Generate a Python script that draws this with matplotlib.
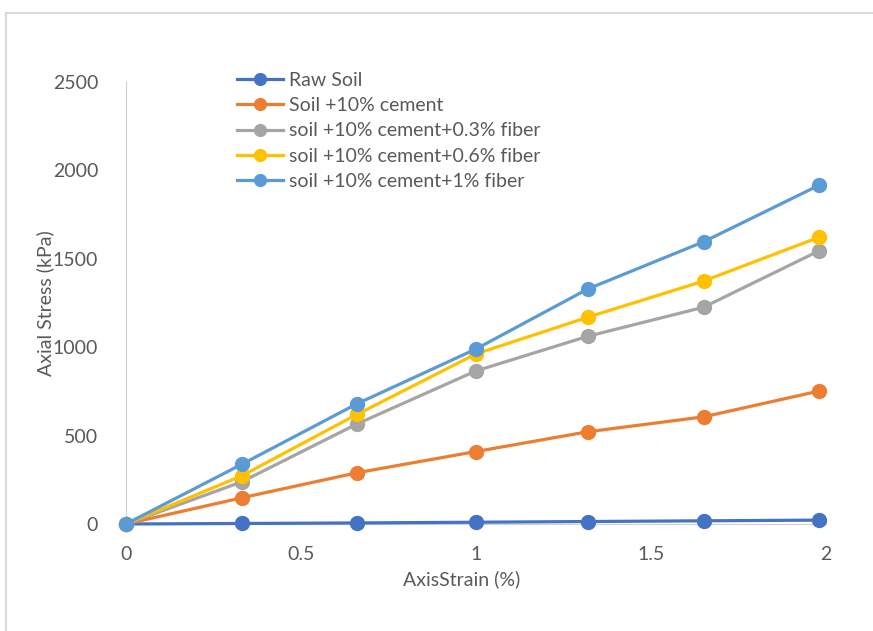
import matplotlib
matplotlib.use("Agg")
import matplotlib.pyplot as plt
from matplotlib.lines import Line2D

# strain (%) and axial stress (kPa)
strain = [0, 0.33, 0.66, 1.0, 1.32, 1.65, 1.98]
raw_soil = [0, 3, 6, 10, 14, 18, 22]
cement10 = [0, 148, 290, 410, 522, 606, 752]
fiber03 = [0, 238, 566, 866, 1062, 1226, 1545]
fiber06 = [0, 272, 620, 962, 1170, 1374, 1622]
fiber1 = [0, 337, 680, 990, 1330, 1596, 1916]

labels = ["Raw Soil", "Soil +10% cement", "soil +10% cement+0.3% fiber",
          "soil +10% cement+0.6% fiber", "soil +10% cement+1% fiber"]
colors = ["#4472C4", "#ED7D31", "#A5A5A5", "#FFC000", "#5B9BD5"]
series = [raw_soil, cement10, fiber03, fiber06, fiber1]

plt.rcParams['font.family'] = ['Lato', 'DejaVu Sans']
txt = "#595959"

fig = plt.figure(figsize=(8.73, 6.31), dpi=100)
ax = fig.add_axes([126/873, 1-524/631, 700/873, 442/631])

for vals, lab, c in zip(series, labels, colors):
    ax.plot(strain, vals, color=c, lw=2.3, marker='o', markersize=10,
            label=lab, clip_on=False, zorder=3)

ax.set_xlim(0, 2)
ax.set_ylim(0, 2500)
ax.set_xticks([0, 0.5, 1, 1.5, 2])
ax.set_xticklabels(["0", "0.5", "1", "1.5", "2"])
ax.set_yticks([0, 500, 1000, 1500, 2000, 2500])
ax.tick_params(length=0, labelsize=14, colors=txt)
ax.tick_params(axis='x', pad=16)
ax.tick_params(axis='y', pad=20)
for s in ['top', 'right']:
    ax.spines[s].set_visible(False)
ax.spines['left'].set_color("#D0D0D0")
ax.spines['bottom'].set_color("#D0D0D0")

ax.set_xlabel("AxisStrain (%)", fontsize=14, color=txt)
ax.set_ylabel("Axial Stress (kPa)", fontsize=14, color=txt)
ax.xaxis.set_label_coords(0.48, -0.105)
ax.yaxis.set_label_coords(-0.103, 0.5)

leg = ax.legend(loc='upper left', bbox_to_anchor=(0.147, 1.04), frameon=False,
                fontsize=14, handlelength=2.4, handletextpad=0.3,
                labelspacing=0.42, borderaxespad=0, markerscale=0.85)
for t in leg.get_texts():
    t.set_color(txt)

# chart area border (only top and left edges are in view)
fig.add_artist(Line2D([6/873, 1], [1-13/631, 1-13/631], color="#D9D9D9", lw=1.5))
fig.add_artist(Line2D([6/873, 6/873], [0, 1-13/631], color="#D9D9D9", lw=1.5))

fig.savefig("out.png", dpi=100)
